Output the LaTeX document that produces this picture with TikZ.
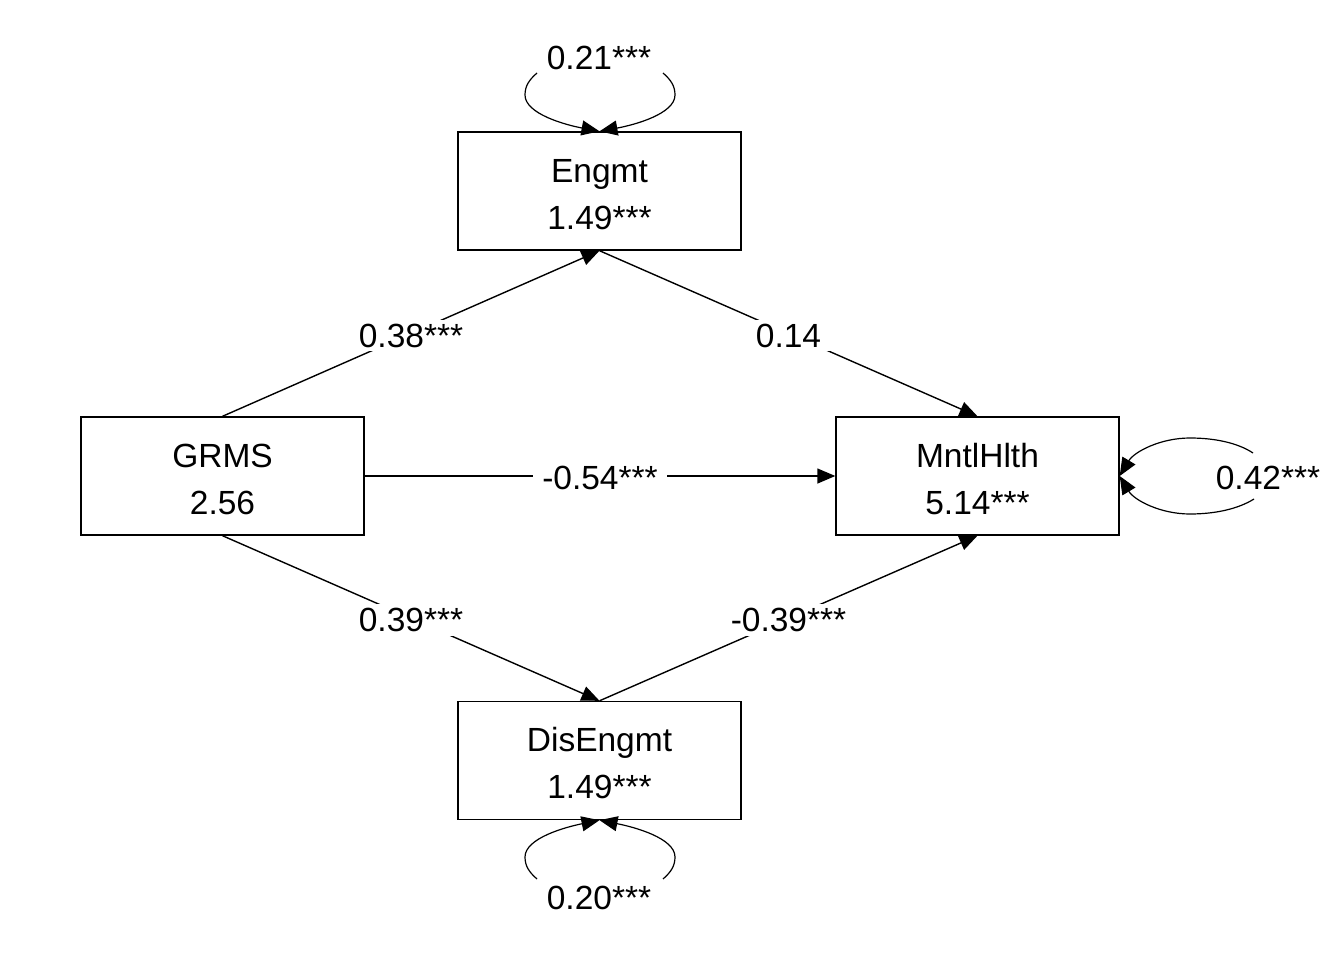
\documentclass[tikz,border=0pt]{standalone}
\usepackage{fontspec}
\setmainfont{Liberation Sans}
\usetikzlibrary{arrows.meta}
\newcommand{\upstrut}{\rule{0pt}{29.5pt}}
\begin{document}
\begin{tikzpicture}[x=1pt,y=-1pt,
  box/.style={draw,line width=1.4pt,minimum width=283pt,minimum height=118pt,align=center,inner sep=0pt,font=\fontsize{33.5}{47}\selectfont},
  lbl/.style={fill=white,inner xsep=9pt,inner ysep=4pt,yshift=-2pt,font=\fontsize{33.5}{40}\selectfont},
  looplbl/.style={inner sep=0pt,font=\fontsize{33.5}{40}\selectfont},
  conn/.style={line width=1.4pt,-{Triangle[length=18pt,width=15pt]}},
  loopline/.style={line width=1.2pt,-{Triangle[length=18pt,width=15pt]}}
]
\useasboundingbox (0,0) rectangle (1344,960);

\node[box] (e) at (599.5,191) {\upstrut Engmt\\1.49***};
\node[box] (g) at (222.5,476) {\upstrut GRMS\\2.56};
\node[box] (m) at (977.5,476) {\upstrut MntlHlth\\5.14***};
\node[box] (d) at (599.5,760.5) {\upstrut DisEngmt\\1.49***};

\draw[conn] (g.north) -- node[lbl] {0.38***} (e.south);
\draw[conn] (e.south) -- node[lbl] {0.14} (m.north);
\draw[conn] (g.east) -- node[lbl] {-0.54***} (m.west);
\draw[conn] (g.south) -- node[lbl] {0.39***} (d.north);
\draw[conn] (d.north) -- node[lbl] {-0.39***} (m.south);

% top loop
\node[looplbl] (le) at (599,58) {0.21***};
\coordinate (tl) at (537,73);
\coordinate (tr) at (663,73);
\draw[loopline] (tl) .. controls (529,80) and (525,86) .. (525,95) .. controls (525,114) and (566,125) .. (e.north);
\draw[loopline] (tr) .. controls (671,80) and (675,86) .. (675,95) .. controls (675,114) and (634,125) .. (e.north);

% bottom loop
\node[looplbl] (ld) at (599,898) {0.20***};
\coordinate (bl) at (537,879);
\coordinate (br) at (663,879);
\draw[loopline] (bl) .. controls (529,872) and (525,866) .. (525,857) .. controls (525,838) and (566,827) .. (d.south);
\draw[loopline] (br) .. controls (671,872) and (675,866) .. (675,857) .. controls (675,838) and (634,827) .. (d.south);

% right loop
\node[looplbl] (lm) at (1268,478) {0.42***};
\coordinate (rt) at (1253,453);
\coordinate (rb) at (1254,499);
\draw[loopline] (rt) .. controls (1238,443) and (1215,438) .. (1190,438) .. controls (1160,438) and (1134,452) .. (m.east);
\draw[loopline] (rb) .. controls (1238,509) and (1215,514) .. (1190,514) .. controls (1160,514) and (1134,500) .. (m.east);
\end{tikzpicture}
\end{document}
